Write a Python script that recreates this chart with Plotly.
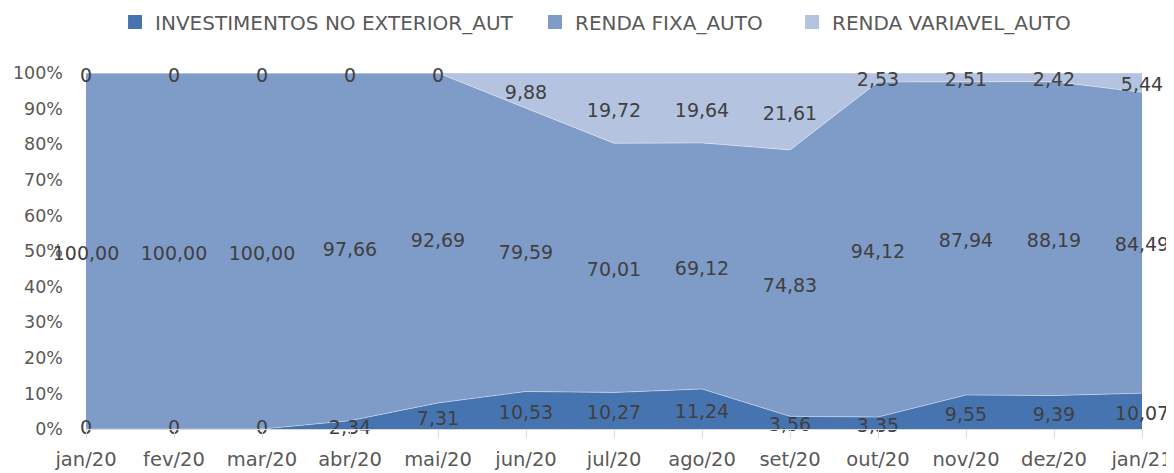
import plotly.graph_objects as go

months = ["jan/20", "fev/20", "mar/20", "abr/20", "mai/20", "jun/20", "jul/20",
          "ago/20", "set/20", "out/20", "nov/20", "dez/20", "jan/21"]
investimentos = [0, 0, 0, 2.34, 7.31, 10.53, 10.27, 11.24, 3.56, 3.35, 9.55, 9.39, 10.07]
renda_fixa = [100.00, 100.00, 100.00, 97.66, 92.69, 79.59, 70.01, 69.12, 74.83, 94.12, 87.94, 88.19, 84.49]
renda_variavel = [0, 0, 0, 0, 0, 9.88, 19.72, 19.64, 21.61, 2.53, 2.51, 2.42, 5.44]
y_ticks = [0, 10, 20, 30, 40, 50, 60, 70, 80, 90, 100]

names = ["INVESTIMENTOS NO EXTERIOR_AUT", "RENDA FIXA_AUTO", "RENDA VARIAVEL_AUTO"]
colors = ["#4674B0", "#7F9BC8", "#B4C3DF"]
series = [investimentos, renda_fixa, renda_variavel]
legend_ids = ["legend", "legend2", "legend3"]
legend_x = [0.0275, 0.4252, 0.6686]

FONT = "DejaVu Sans"
LABEL_SHIFT = 1.1  # visual centering of digits (percent units)

def fmt(v):
    return "0" if v == 0 else f"{v:.2f}".replace(".", ",")

fig = go.Figure()
x_idx = list(range(len(months)))
for name, col, vals in zip(names, colors, series):
    fig.add_trace(go.Scatter(
        x=x_idx, y=vals, name=name, mode="lines", stackgroup="one", groupnorm="percent",
        line=dict(width=0.8, color="rgba(255,255,255,0.5)"), fillcolor=col,
        showlegend=False, hoverinfo="skip"))

# legend entries as squares, each in its own legend box
for name, col, lid in zip(names, colors, legend_ids):
    fig.add_trace(go.Scatter(
        x=[None], y=[None], name=name, mode="markers", legend=lid,
        marker=dict(symbol="square", size=14, color=col), showlegend=True))

# data labels at middle of each band
for k, vals in enumerate(series):
    ys = []
    for i in range(len(months)):
        total = sum(s[i] for s in series)
        base = sum(series[j][i] for j in range(k)) / total * 100
        ys.append(max(base + vals[i] / total * 100 / 2 - LABEL_SHIFT, 0))
    fig.add_trace(go.Scatter(
        x=x_idx, y=ys, mode="text", text=[fmt(v) for v in vals],
        textfont=dict(family=FONT, size=19, color="#404040"),
        textposition="middle center", showlegend=False, cliponaxis=False,
        hoverinfo="skip"))

legend_common = dict(orientation="h", xanchor="left", y=0.970, yanchor="middle",
                     yref="container", font=dict(family=FONT, size=20, color="#595959"),
                     itemwidth=30, bgcolor="rgba(0,0,0,0)")
fig.update_layout(
    width=1166, height=465,
    margin=dict(l=78, r=32, t=65, b=44, autoexpand=False),
    paper_bgcolor="white", plot_bgcolor="white",
    font=dict(family=FONT, color="#595959"),
    legend=dict(x=legend_x[0], **legend_common),
    legend2=dict(x=legend_x[1], **legend_common),
    legend3=dict(x=legend_x[2], **legend_common),
    showlegend=True,
)
fig.update_xaxes(
    tickmode="array", tickvals=x_idx, ticktext=months, range=[0, len(months) - 1],
    showgrid=False, showline=True, linecolor="#D9D9D9", linewidth=1,
    ticks="outside", ticklen=8, tickcolor="#D9D9D9", ticklabelstandoff=5,
    tickfont=dict(family=FONT, size=19.5, color="#595959"), zeroline=False)
fig.update_yaxes(
    range=[0, 100], tickmode="array", tickvals=y_ticks,
    ticktext=[f"{t}%" for t in y_ticks],
    showgrid=True, gridcolor="#D9D9D9", zeroline=False, showline=False,
    tickfont=dict(family=FONT, size=17.5, color="#595959"), ticklabelstandoff=22)

fig.write_html("out.html")
